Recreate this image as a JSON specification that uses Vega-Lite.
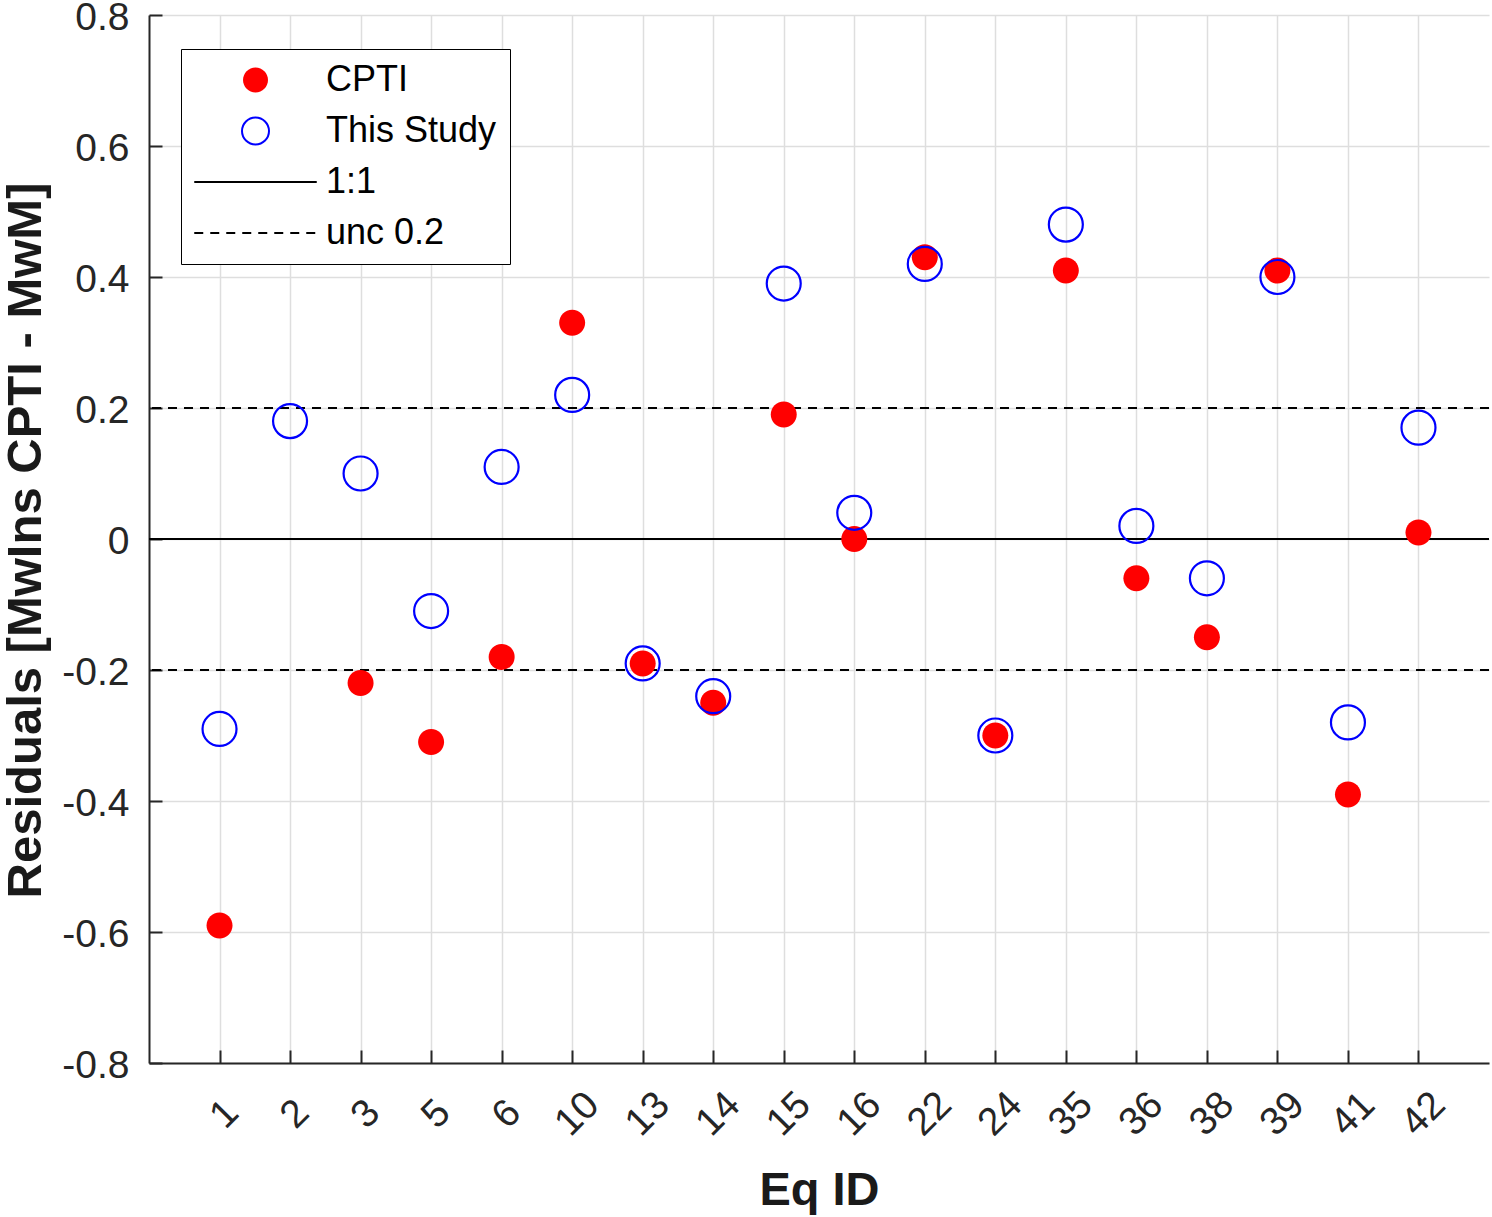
{
  "$schema": "https://vega.github.io/schema/vega-lite/v6.json",
  "width": 1340,
  "height": 1048,
  "autosize": {"type": "none"},
  "padding": {"left": 149, "top": 15, "right": 3, "bottom": 154},
  "background": "white",
  "config": {
    "view": {"stroke": null},
    "font": "Liberation Sans",
    "axis": {
      "domainColor": "#262626",
      "domainWidth": 2,
      "tickColor": "#262626",
      "tickWidth": 2,
      "tickSize": -13,
      "gridColor": "#dedede",
      "gridWidth": 1.5,
      "labelFont": "Liberation Sans",
      "labelFontSize": 39,
      "labelColor": "#262626",
      "titleFont": "Liberation Sans",
      "titleFontWeight": "bold",
      "titleColor": "#1a1a1a"
    },
    "legend": {
      "orient": "none",
      "legendX": 32,
      "legendY": 34,
      "direction": "vertical",
      "labelFont": "Liberation Sans",
      "labelFontSize": 36,
      "labelColor": "#000000",
      "labelLimit": 500,
      "symbolSize": 625,
      "symbolStrokeWidth": 2,
      "symbolOffset": 43.5,
      "labelOffset": 52.5,
      "rowPadding": 15,
      "padding": 13,
      "strokeColor": "#000000",
      "fillColor": "#ffffff"
    }
  },
  "datasets": {
    "pts": [
      {"id": "1", "series": "CPTI", "value": -0.59},
      {"id": "3", "series": "CPTI", "value": -0.22},
      {"id": "5", "series": "CPTI", "value": -0.31},
      {"id": "6", "series": "CPTI", "value": -0.18},
      {"id": "10", "series": "CPTI", "value": 0.33},
      {"id": "13", "series": "CPTI", "value": -0.19},
      {"id": "14", "series": "CPTI", "value": -0.25},
      {"id": "15", "series": "CPTI", "value": 0.19},
      {"id": "16", "series": "CPTI", "value": 0.0},
      {"id": "22", "series": "CPTI", "value": 0.43},
      {"id": "24", "series": "CPTI", "value": -0.30},
      {"id": "35", "series": "CPTI", "value": 0.41},
      {"id": "36", "series": "CPTI", "value": -0.06},
      {"id": "38", "series": "CPTI", "value": -0.15},
      {"id": "39", "series": "CPTI", "value": 0.41},
      {"id": "41", "series": "CPTI", "value": -0.39},
      {"id": "42", "series": "CPTI", "value": 0.01},
      {"id": "1", "series": "This Study", "value": -0.29},
      {"id": "2", "series": "This Study", "value": 0.18},
      {"id": "3", "series": "This Study", "value": 0.10},
      {"id": "5", "series": "This Study", "value": -0.11},
      {"id": "6", "series": "This Study", "value": 0.11},
      {"id": "10", "series": "This Study", "value": 0.22},
      {"id": "13", "series": "This Study", "value": -0.19},
      {"id": "14", "series": "This Study", "value": -0.24},
      {"id": "15", "series": "This Study", "value": 0.39},
      {"id": "16", "series": "This Study", "value": 0.04},
      {"id": "22", "series": "This Study", "value": 0.42},
      {"id": "24", "series": "This Study", "value": -0.30},
      {"id": "35", "series": "This Study", "value": 0.48},
      {"id": "36", "series": "This Study", "value": 0.02},
      {"id": "38", "series": "This Study", "value": -0.06},
      {"id": "39", "series": "This Study", "value": 0.40},
      {"id": "41", "series": "This Study", "value": -0.28},
      {"id": "42", "series": "This Study", "value": 0.17}
    ],
    "refs": [
      {"series": "1:1", "value": 0},
      {"series": "unc 0.2", "value": 0.2},
      {"series": "unc 0.2", "value": -0.2}
    ]
  },
  "layer": [
    {
      "data": {"name": "refs"},
      "mark": {"type": "rule", "color": "#000000", "strokeWidth": 2},
      "encoding": {
        "y": {
          "field": "value",
          "type": "quantitative",
          "scale": {"domain": [-0.8, 0.8], "nice": false, "zero": false},
          "axis": {
            "title": "Residuals [MwIns CPTI - MwM]",
            "titleFontSize": 49,
            "titleBaseline": "alphabetic",
            "titleX": -109,
            "titleY": 525,
            "values": [-0.8, -0.6, -0.4, -0.2, 0, 0.2, 0.4, 0.6, 0.8],
            "labelExpr": "datum.value == 0 ? '0' : replace(format(datum.value, '.1f'), '\u2212', '-')",
            "labelPadding": 33,
            "labelOffset": 2,
            "grid": true
          }
        },
        "strokeDash": {
          "field": "series",
          "type": "nominal",
          "scale": {"domain": ["1:1", "unc 0.2"], "range": [[1, 0], [9, 7]]},
          "legend": null
        }
      }
    },
    {
      "data": {"name": "pts"},
      "transform": [{"filter": "datum.series === 'CPTI'"}],
      "mark": {"type": "point", "filled": true, "size": 676, "opacity": 1, "strokeWidth": 2},
      "encoding": {
        "x": {
          "field": "id",
          "type": "ordinal",
          "scale": {"type": "point", "padding": 1, "domain": ["1", "2", "3", "5", "6", "10", "13", "14", "15", "16", "22", "24", "35", "36", "38", "39", "41", "42"]},
          "axis": {
            "title": "Eq ID",
            "titleFontSize": 47,
            "titleBaseline": "alphabetic",
            "titleX": 670,
            "titleY": 141,
            "labelAngle": -45,
            "labelAlign": "center",
            "labelBaseline": "middle",
            "labelPadding": 63.5,
            "labelOffset": 4.5,
            "grid": true
          }
        },
        "y": {"field": "value", "type": "quantitative"},
        "fill": {
          "field": "series",
          "type": "nominal",
          "scale": {"domain": ["CPTI", "This Study", "1:1", "unc 0.2"], "range": ["#ff0000", "transparent", "transparent", "transparent"]},
          "legend": {"title": null}
        },
        "stroke": {
          "field": "series",
          "type": "nominal",
          "scale": {"domain": ["CPTI", "This Study", "1:1", "unc 0.2"], "range": ["transparent", "#0000ff", "#000000", "#000000"]},
          "legend": {"title": null}
        },
        "shape": {
          "field": "series",
          "type": "nominal",
          "scale": {
            "domain": ["CPTI", "This Study", "1:1", "unc 0.2"],
            "range": [
              "M-4.9,0M4.9,0M-1,0A1,1 0 1,0 1,0A1,1 0 1,0 -1,0Z",
              "M-4.9,0M4.9,0M-1.08,0A1.08,1.08 0 1,0 1.08,0A1.08,1.08 0 1,0 -1.08,0Z",
              "M-4.9,0H4.9",
              "M-4.9,0H-4.18M-3.62,0H-2.9M-2.34,0H-1.62M-1.06,0H-0.34M0.22,0H0.94M1.5,0H2.22M2.78,0H3.5M4.06,0H4.78"
            ]
          },
          "legend": {"title": null}
        }
      }
    },
    {
      "data": {"name": "pts"},
      "transform": [{"filter": "datum.series === 'This Study'"}],
      "mark": {"type": "point", "filled": true, "size": 990, "opacity": 1, "strokeWidth": 2.2},
      "encoding": {
        "x": {"field": "id", "type": "ordinal"},
        "y": {"field": "value", "type": "quantitative"},
        "fill": {"field": "series", "type": "nominal", "legend": {"title": null}},
        "stroke": {"field": "series", "type": "nominal", "legend": {"title": null}},
        "shape": {"field": "series", "type": "nominal", "legend": {"title": null}}
      }
    }
  ]
}
